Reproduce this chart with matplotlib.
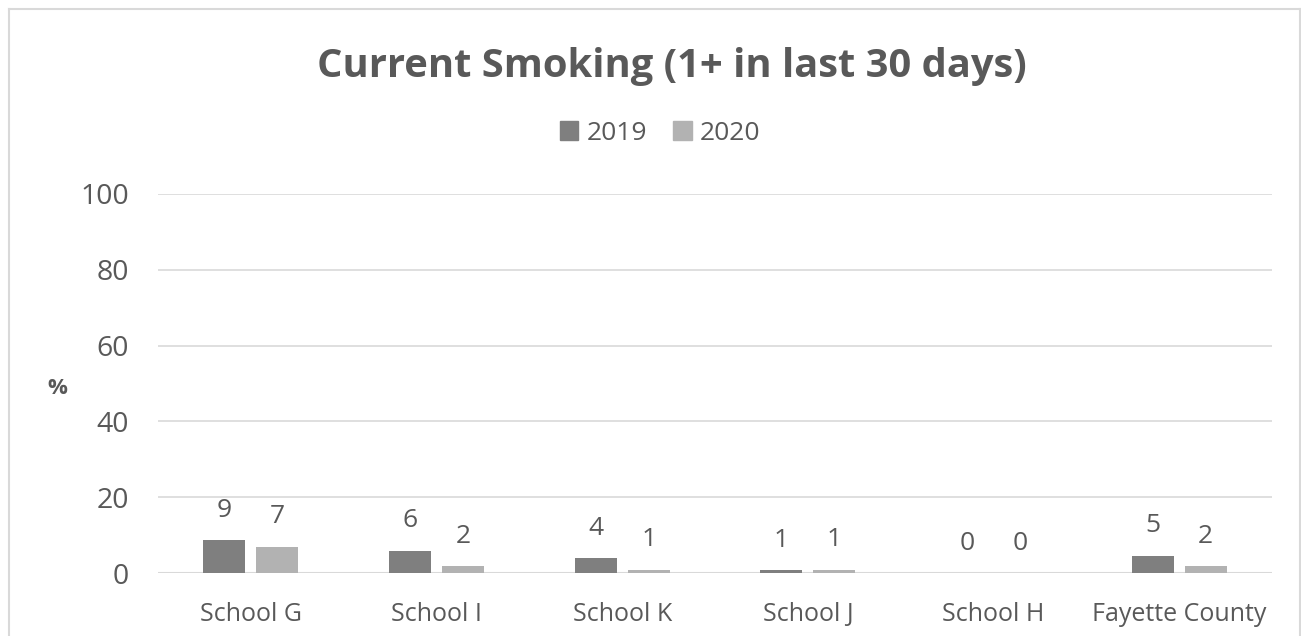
import numpy as np
import matplotlib
matplotlib.use('Agg')
import matplotlib.pyplot as plt
from matplotlib.lines import Line2D
from matplotlib.patches import Patch

# data
schools = ['School G', 'School I', 'School K', 'School J', 'School H', 'Fayette County']
vals_2019 = [8.7, 5.9, 3.9, 0.7, 0.0, 4.6]
vals_2020 = [6.9, 1.8, 0.8, 0.9, 0.0, 1.8]
years = ['2019', '2020']
yticks = [0, 20, 40, 60, 80, 100]

c_dark = '#7f7f7f'
c_light = '#b2b2b2'
c_text = '#595959'
c_grid = '#d9d9d9'

plt.rcParams['font.family'] = ['Open Sans', 'DejaVu Sans']

W, H = 1301, 636
fig = plt.figure(figsize=(W / 100, H / 100), dpi=100)
ax = fig.add_axes([158 / W, (H - 573) / H, (1272 - 158) / W, (573 - 194) / H])

x = np.arange(len(schools))
bw = 0.226
off = 0.143
b1 = ax.bar(x - off, vals_2019, width=bw, color=c_dark, zorder=3)
b2 = ax.bar(x + off, vals_2020, width=bw, color=c_light, zorder=3)

for bars, vals in [(b1, vals_2019), (b2, vals_2020)]:
    for rect, v in zip(bars, vals):
        ax.annotate(f"{v:.0f}", (rect.get_x() + rect.get_width() / 2, v),
                    xytext=(0, 30), textcoords='offset pixels',
                    ha='center', va='center', fontsize=19, color=c_text)

ax.set_xlim(-0.5, len(schools) - 0.5)
ax.set_ylim(0, 100)
ax.set_yticks(yticks)
ax.set_xticks(x)
ax.set_xticklabels(schools)
ax.grid(True, axis='y', color=c_grid, linewidth=1.2, zorder=0)
for s in ax.spines.values():
    s.set_visible(False)
ax.axhline(0, color=c_grid, linewidth=1.5, zorder=2)
ax.tick_params(axis='both', length=0, colors=c_text)
ax.tick_params(axis='y', labelsize=20.5, pad=21)
ax.tick_params(axis='x', labelsize=18, pad=21)

fig.text(57 / W, 1 - 388 / H, '%', fontsize=16, fontweight='bold',
         color=c_text, ha='center', va='center')

fig.text(672 / W, 1 - 67 / H, 'Current Smoking (1+ in last 30 days)',
         fontsize=28.7, fontweight='bold', color=c_text, ha='center', va='center')

handles = [Patch(color=c_dark), Patch(color=c_light)]
leg = fig.legend(handles, years, loc='center', bbox_to_anchor=(660 / W, 1 - 133 / H),
                 ncol=2, frameon=False, fontsize=19, handlelength=0.7, handleheight=0.7,
                 handletextpad=0.3, columnspacing=1.0)
for t in leg.get_texts():
    t.set_color(c_text)

# chart border
fig.add_artist(Line2D([8.5 / W, 8.5 / W], [0, 1 - 8.5 / H], color=c_grid, linewidth=1.5,
                      transform=fig.transFigure))
fig.add_artist(Line2D([8.5 / W, 1300 / W], [1 - 8.5 / H, 1 - 8.5 / H], color=c_grid,
                      linewidth=1.5, transform=fig.transFigure))
fig.add_artist(Line2D([1300 / W, 1300 / W], [0, 1 - 8.5 / H], color=c_grid, linewidth=1.5,
                      transform=fig.transFigure))

fig.savefig('out.png', dpi=100)
